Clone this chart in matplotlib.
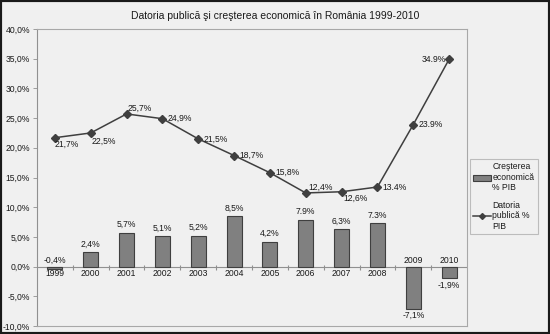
import numpy as np
import matplotlib
matplotlib.use("Agg")
from matplotlib import pyplot as plt
from matplotlib.patches import Rectangle
from matplotlib.lines import Line2D

plt.rcParams['font.family'] = ['Liberation Sans', 'DejaVu Sans']

years = ['1999', '2000', '2001', '2002', '2003', '2004',
         '2005', '2006', '2007', '2008', '2009', '2010']
growth = [-0.4, 2.4, 5.7, 5.1, 5.2, 8.5, 4.2, 7.9, 6.3, 7.3, -7.1, -1.9]
debt = [21.7, 22.5, 25.7, 24.9, 21.5, 18.7, 15.8, 12.4, 12.6, 13.4, 23.9, 34.9]
growth_labels = ['-0,4%', '2,4%', '5,7%', '5,1%', '5,2%', '8,5%',
                 '4,2%', '7.9%', '6,3%', '7.3%', '-7,1%', '-1,9%']
debt_labels = ['21,7%', '22,5%', '25,7%', '24,9%', '21,5%', '18,7%',
               '15,8%', '12,4%', '12,6%', '13.4%', '23.9%', '34.9%']
yticks = [-10, -5, 0, 5, 10, 15, 20, 25, 30, 35, 40]

# label placement for the debt line (pixels, y up) and alignment
debt_offsets = [(12, -7), (13, -8), (13, 6), (5, 0), (5, 0), (5, 0),
                (5, 0), (15, 6), (14, -7), (5, 0), (5, 0), (-3, 0)]
debt_ha = ['center', 'center', 'center', 'left', 'left', 'left',
           'left', 'center', 'center', 'left', 'left', 'right']

BG = '#f0f0f0'
BAR = '#808080'
DARK = '#3f3f3f'
TXT = '#1a1a1a'
FS = 6.2

fig = plt.figure(figsize=(5.5, 3.34), dpi=100)
fig.patch.set_facecolor(BG)
ax = fig.add_axes([37 / 550, 8 / 334, 430 / 550, 297 / 334])
ax.set_facecolor(BG)

x = np.arange(len(years))
ax.bar(x, growth, width=0.42, color=BAR, edgecolor=DARK, linewidth=0.8, zorder=2)
ax.plot(x, debt, color=DARK, linewidth=1.1, marker='D', markersize=4, zorder=3)

ax.set_xlim(-0.5, len(years) - 0.5)
ax.set_ylim(-10, 40)
ax.set_yticks(yticks)
ax.set_yticklabels([f"{v:.1f}%".replace('.', ',') for v in yticks],
                   fontsize=FS, color=TXT)
ax.tick_params(axis='y', length=3, width=0.6, color='#909090', pad=2)
ax.set_xticks([])
for s in ax.spines.values():
    s.set_color('#a8a8a8')
    s.set_linewidth(0.8)
ax.spines['left'].set_color('#909090')

# category axis drawn on the zero line
ax.axhline(0, color='#909090', linewidth=0.8, zorder=1)
ax.vlines(x[:-1] + 0.5, -0.5, 0.3, color='#909090', linewidth=0.8, zorder=1)

for i, (g, lab) in enumerate(zip(growth, growth_labels)):
    if i == 0:
        ax.annotate(lab, (i, 0), xytext=(0, 6), textcoords='offset pixels',
                    ha='center', va='center', fontsize=FS, color=TXT)
    elif g >= 0:
        ax.annotate(lab, (i, g), xytext=(0, 8), textcoords='offset pixels',
                    ha='center', va='center', fontsize=FS, color=TXT)
    else:
        ax.annotate(lab, (i, g), xytext=(0, -7), textcoords='offset pixels',
                    ha='center', va='center', fontsize=FS, color=TXT)
    dy = 6 if g < 0 and i > 0 else -7
    ax.annotate(years[i], (i, 0), xytext=(0, dy), textcoords='offset pixels',
                ha='center', va='center', fontsize=FS, color=TXT)

for i, (d, lab) in enumerate(zip(debt, debt_labels)):
    ax.annotate(lab, (i, d), xytext=debt_offsets[i], textcoords='offset pixels',
                ha=debt_ha[i], va='center', fontsize=FS, color=TXT)

fig.text(0.5, 1 - 16 / 334, 'Datoria publică şi creşterea economică în România 1999-2010',
         ha='center', va='center', fontsize=7.5, color=TXT)

handles = [Rectangle((0, 0), 1, 1, facecolor=BAR, edgecolor=DARK, linewidth=0.8),
           Line2D([], [], color=DARK, linewidth=1.1, marker='D', markersize=3)]
leg = fig.legend(handles, ['Creşterea\neconomică\n% PIB', 'Datoria\npublică %\nPIB'],
                 loc='upper left', bbox_to_anchor=(470 / 550, 1 - 159 / 334),
                 fontsize=FS, frameon=True, fancybox=False, handlelength=2.0,
                 handleheight=0.6, handletextpad=0.2, borderpad=0.4,
                 labelspacing=1.0, borderaxespad=0)
for t in leg.get_texts():
    t.set_color(TXT)
leg.get_frame().set_facecolor(BG)
leg.get_frame().set_edgecolor('#b0b0b0')
leg.get_frame().set_linewidth(0.8)

fig.add_artist(Rectangle((0, 0), 1, 1, transform=fig.transFigure, fill=False,
                         edgecolor='#1a1a1a', linewidth=3, clip_on=False))

fig.savefig('out.png', dpi=100, facecolor=BG)
